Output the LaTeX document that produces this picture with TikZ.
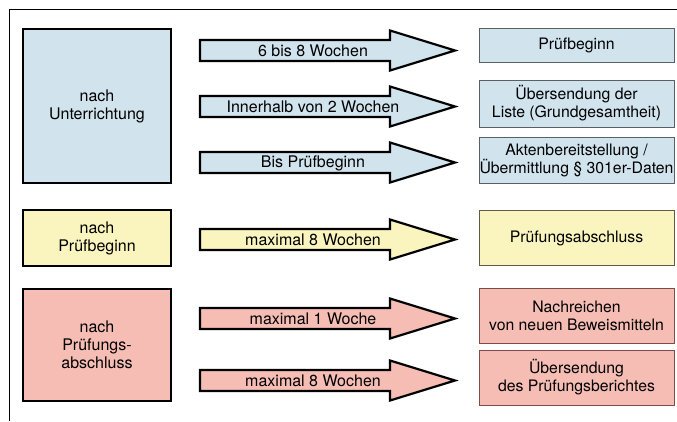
\documentclass[tikz,border=0pt]{standalone}
\usepackage{fontspec}
\setmainfont{TeX Gyre Heros}
\definecolor{cblue}{HTML}{D1E4EE}
\definecolor{cyellow}{HTML}{FAF5BE}
\definecolor{cred}{HTML}{F5BDB4}
\definecolor{bblue}{HTML}{5A5F63}
\definecolor{byellow}{HTML}{5F5A45}
\definecolor{bred}{HTML}{7D4E48}
\tikzset{
  bigbox/.style={draw=black, line width=2.6pt, align=center, font=\fontsize{16}{18}\selectfont},
  smallbox/.style={draw, line width=0.9pt, align=center, inner xsep=0pt, font=\fontsize{15.8}{18}\selectfont},
  arrowshape/.style={draw=black, line width=2.2pt, line join=miter},
  arrowlabel/.style={font=\fontsize{16}{18}\selectfont, inner sep=0pt},
  frameline/.style={line width=1pt}
}
\newcommand{\flowarrow}[4]{%
  \draw[arrowshape, fill=#2] (200,#1-10.5) -- (390,#1-10.5) -- (390,#1-20) -- (455,#1) -- (390,#1+20) -- (390,#1+10.5) -- (200,#1+10.5) -- cycle;
  \node[arrowlabel] (#4) at (313,#1+0.5) {#3};
}
\begin{document}
\begin{tikzpicture}[x=1pt,y=-1pt]
\useasboundingbox (0,0) rectangle (677,421);
% frame
\coordinate (fa) at (9.5,421);
\coordinate (fb) at (9.5,9.5);
\coordinate (fc) at (677,9.5);
\draw[frameline] (fa) -- (fb) -- (fc);
% left boxes
\node[bigbox, fill=cblue, minimum width=148pt, minimum height=154pt] (b1) at (97,106) {nach\\Unterrichtung};
\node[bigbox, fill=cyellow, minimum width=148pt, minimum height=56pt] (b2) at (97,238) {nach\\Prüfbeginn};
\node[bigbox, fill=cred, minimum width=148pt, minimum height=112pt] (b3) at (97,345) {nach\\Prüfungs-\\abschluss};
% arrows
\flowarrow{50.5}{cblue}{6 bis 8 Wochen}{a1}
\flowarrow{106.5}{cblue}{Innerhalb von 2 Wochen}{a2}
\flowarrow{162.5}{cblue}{Bis Prüfbeginn}{a3}
\flowarrow{239.5}{cyellow}{maximal 8 Wochen}{a4}
\flowarrow{318.5}{cred}{maximal 1 Woche}{a5}
\flowarrow{380.5}{cred}{maximal 8 Wochen}{a6}
% right boxes
\node[smallbox, draw=bblue, fill=cblue, minimum width=195pt, minimum height=34pt] (r1) at (576.5,45) {Prüfbeginn};
\node[smallbox, draw=bblue, fill=cblue, minimum width=195pt, minimum height=47pt] (r2) at (576.5,103.5) {Übersendung der\\Liste (Grundgesamtheit)};
\node[smallbox, draw=bblue, fill=cblue, minimum width=195pt, minimum height=46pt] (r3) at (576.5,160) {Aktenbereitstellung /\\Übermittlung § 301er-Daten};
\node[smallbox, draw=byellow, fill=cyellow, minimum width=195pt, minimum height=55pt] (r4) at (576.5,238) {Prüfungsabschluss};
\node[smallbox, draw=bred, fill=cred, minimum width=195pt, minimum height=55pt] (r5) at (576.5,315.5) {Nachreichen\\von neuen Beweismitteln};
\node[smallbox, draw=bred, fill=cred, minimum width=195pt, minimum height=55pt] (r6) at (576.5,377.5) {Übersendung\\des Prüfungsberichtes};
\end{tikzpicture}
\end{document}
